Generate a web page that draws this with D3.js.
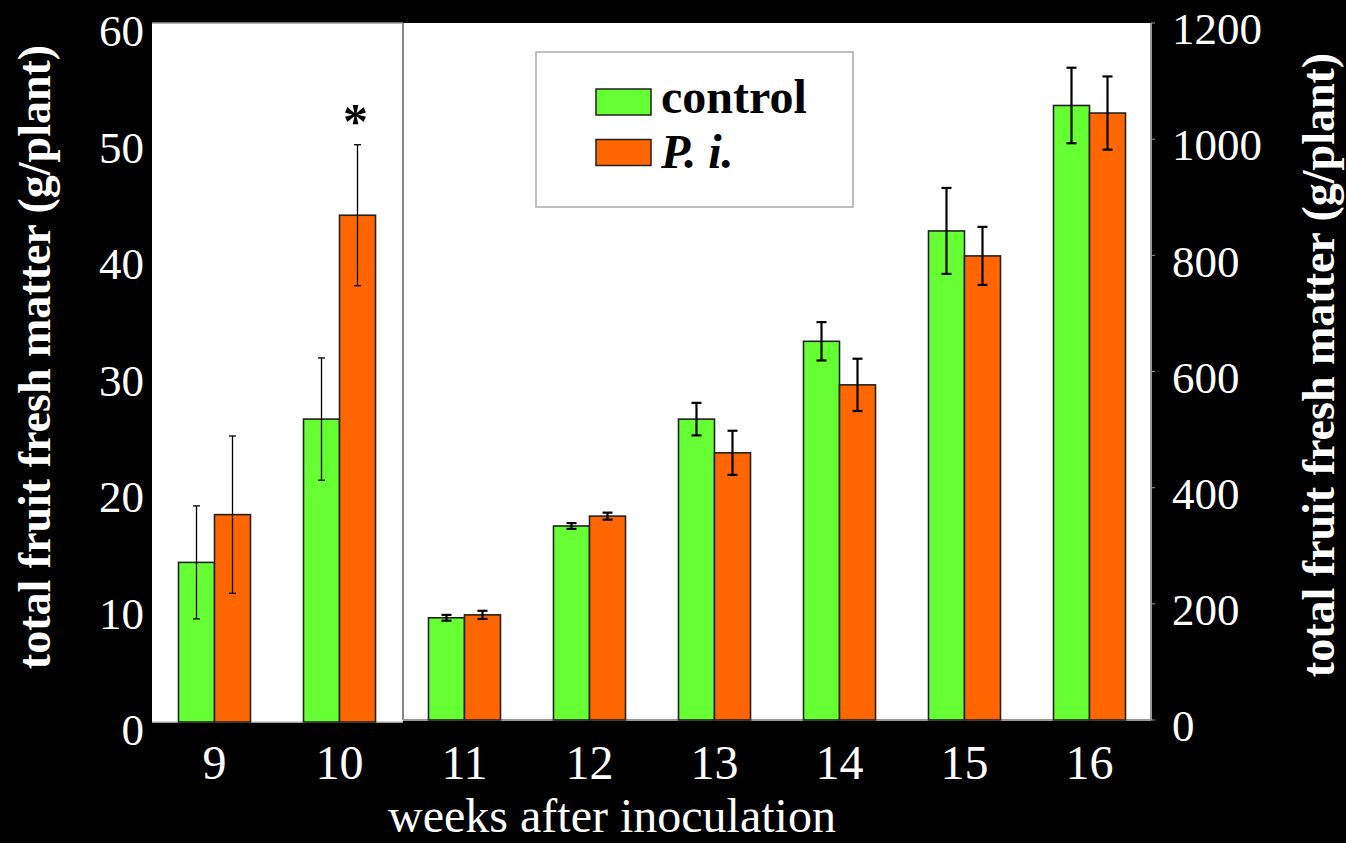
<!DOCTYPE html>
<html>
<head>
<meta charset="utf-8">
<script src="https://cdn.jsdelivr.net/npm/d3@7"></script>
<style>
  body { margin: 0; background: #000; }
  svg text { font-family: "Liberation Serif", "Times New Roman", serif; }
</style>
</head>
<body>
<div id="chart"></div>
<script>
// data
let weeks = ["9", "10", "11", "12", "13", "14", "15", "16"];
let axisOf = ["left", "left", "right", "right", "right", "right", "right", "right"];
let controlMean = [13.7, 26.0, 176, 334, 518, 652, 842, 1058];
let controlErr = [4.85, 5.25, 5, 5, 28, 33, 74, 65];
let piMean = [17.8, 43.5, 181, 351, 460, 577, 799, 1045];
let piErr = [6.75, 6.05, 7, 6, 38, 45, 50, 63];
let leftTicks = [0, 10, 20, 30, 40, 50, 60];
let rightTicks = [0, 200, 400, 600, 800, 1000, 1200];
let seriesNames = ["control", "P. i."];
let seriesColors = ["#66ff33", "#ff6600"];

let width = 1346, height = 843;

let svg = d3.select("#chart")
    .append("svg")
    .attr("width", width)
    .attr("height", height)
    .style("background", "#000");

// scales
let x = d3.scalePoint()
    .domain(weeks)
    .range([152, 1152])
    .padding(0.5);
let barW = x.step() * 0.288;

let yL = d3.scaleLinear().domain([0, 60]).range([722, 23]);
let yR = d3.scaleLinear().domain([0, 1200]).range([720, 23]);
function yOf(i) { return axisOf[i] == "left" ? yL : yR; }

// plot panels
let splitX = (x(weeks[1]) + x(weeks[2])) / 2 + 1;
svg.append("rect")
    .attr("x", 152).attr("y", yL(60))
    .attr("width", splitX - 152).attr("height", yL(0) - yL(60))
    .attr("fill", "#fff");
svg.append("rect")
    .attr("x", splitX).attr("y", yR(1200))
    .attr("width", 1151 - splitX).attr("height", yR(0) - yR(1200))
    .attr("fill", "#fff");

// panel borders
svg.append("line")
    .attr("x1", 152).attr("x2", splitX).attr("y1", yL(60)).attr("y2", yL(60))
    .attr("stroke", "#999").attr("stroke-width", 1.5);
svg.append("line")
    .attr("x1", 152).attr("x2", splitX).attr("y1", yL(0)).attr("y2", yL(0))
    .attr("stroke", "#ccc").attr("stroke-width", 1.5);
svg.append("line")
    .attr("x1", splitX).attr("x2", splitX).attr("y1", yR(1200)).attr("y2", yR(0))
    .attr("stroke", "#888").attr("stroke-width", 2);
svg.append("line")
    .attr("x1", splitX).attr("x2", 1151).attr("y1", yR(0)).attr("y2", yR(0))
    .attr("stroke", "#999").attr("stroke-width", 2);
svg.append("line")
    .attr("x1", 1151).attr("x2", 1151).attr("y1", yR(1200)).attr("y2", yR(0))
    .attr("stroke", "#999").attr("stroke-width", 2);

// left axis labels
svg.selectAll(".ltick")
    .data(leftTicks)
    .enter()
    .append("text")
    .attr("x", 144)
    .attr("y", function(d) { return yL(d) + 8; })
    .attr("dy", "0.34em")
    .attr("text-anchor", "end")
    .attr("font-size", 45)
    .attr("fill", "#fff")
    .text(function(d) { return d; });

// right axis ticks + labels
svg.selectAll(".rtickline")
    .data(rightTicks)
    .enter()
    .append("line")
    .attr("x1", 1151).attr("x2", 1155)
    .attr("y1", function(d) { return yR(d); })
    .attr("y2", function(d) { return yR(d); })
    .attr("stroke", "#999");
svg.selectAll(".rtick")
    .data(rightTicks)
    .enter()
    .append("text")
    .attr("x", 1172)
    .attr("y", function(d) { return yR(d) + 6; })
    .attr("dy", "0.34em")
    .attr("font-size", 45)
    .attr("fill", "#fff")
    .text(function(d) { return d; });

// x labels
svg.selectAll(".xtick")
    .data(weeks)
    .enter()
    .append("text")
    .attr("x", function(d) { return x(d); })
    .attr("y", 779)
    .attr("text-anchor", "middle")
    .attr("font-size", 48)
    .attr("fill", "#fff")
    .text(function(d) { return d; });

svg.append("text")
    .attr("x", 612).attr("y", 832)
    .attr("text-anchor", "middle")
    .attr("font-size", 48)
    .attr("fill", "#fff")
    .text("weeks after inoculation");

// y titles
svg.append("text")
    .attr("transform", "translate(50,357)rotate(-90)")
    .attr("text-anchor", "middle")
    .attr("font-size", 46)
    .attr("font-weight", "bold")
    .attr("fill", "#fff")
    .text("total fruit fresh matter (g/plant)");
svg.append("text")
    .attr("transform", "translate(1334,365)rotate(-90)")
    .attr("text-anchor", "middle")
    .attr("font-size", 46)
    .attr("font-weight", "bold")
    .attr("fill", "#fff")
    .text("total fruit fresh matter (g/plant)");

// bars
let series = [controlMean, piMean];
let errs = [controlErr, piErr];
series.forEach(function(vals, s) {
    svg.selectAll(".bar" + s)
        .data(vals)
        .enter()
        .append("rect")
        .attr("x", function(d, i) { return x(weeks[i]) - barW + s * barW; })
        .attr("y", function(d, i) { return yOf(i)(d); })
        .attr("width", barW)
        .attr("height", function(d, i) { return yOf(i)(0) - yOf(i)(d); })
        .attr("fill", seriesColors[s])
        .attr("stroke", "#222")
        .attr("stroke-width", 1.6);
});

// error bars
series.forEach(function(vals, s) {
    let g = svg.selectAll(".err" + s)
        .data(vals)
        .enter()
        .append("g")
        .attr("stroke", "#000")
        .attr("stroke-width", function(d, i) { return axisOf[i] == "left" ? 1.3 : 2.2; });
    let cx = function(d, i) { return x(weeks[i]) - barW / 2 + s * barW; };
    let cap = function(i) { return axisOf[i] == "left" ? 3.5 : 5; };
    g.append("line")
        .attr("x1", cx).attr("x2", cx)
        .attr("y1", function(d, i) { return yOf(i)(d + errs[s][i]); })
        .attr("y2", function(d, i) { return yOf(i)(d - errs[s][i]); });
    g.append("line")
        .attr("x1", function(d, i) { return cx(d, i) - cap(i); })
        .attr("x2", function(d, i) { return cx(d, i) + cap(i); })
        .attr("y1", function(d, i) { return yOf(i)(d + errs[s][i]); })
        .attr("y2", function(d, i) { return yOf(i)(d + errs[s][i]); });
    g.append("line")
        .attr("x1", function(d, i) { return cx(d, i) - cap(i); })
        .attr("x2", function(d, i) { return cx(d, i) + cap(i); })
        .attr("y1", function(d, i) { return yOf(i)(d - errs[s][i]); })
        .attr("y2", function(d, i) { return yOf(i)(d - errs[s][i]); });
});

// significance star on week 10 P. i.
svg.append("text")
    .attr("x", x("10") + barW / 2 - 2)
    .attr("y", yL(piMean[1] + piErr[1]) - 7)
    .attr("text-anchor", "middle")
    .attr("font-size", 50)
    .attr("font-weight", "bold")
    .attr("fill", "#000")
    .text("*");

// legend
let legend = svg.append("g").attr("transform", "translate(536,52)");
legend.append("rect")
    .attr("width", 317).attr("height", 155)
    .attr("fill", "#fff")
    .attr("stroke", "#aaa")
    .attr("stroke-width", 1.5);
seriesNames.forEach(function(name, s) {
    legend.append("rect")
        .attr("x", 60).attr("y", 37 + s * 50.5)
        .attr("width", 55).attr("height", 26)
        .attr("fill", seriesColors[s])
        .attr("stroke", "#222")
        .attr("stroke-width", 1.5);
    legend.append("text")
        .attr("x", 125).attr("y", 61 + s * 55)
        .attr("font-size", 48)
        .attr("font-weight", "bold")
        .attr("font-style", s == 1 ? "italic" : "normal")
        .attr("fill", "#000")
        .text(name);
});
</script>
</body>
</html>
